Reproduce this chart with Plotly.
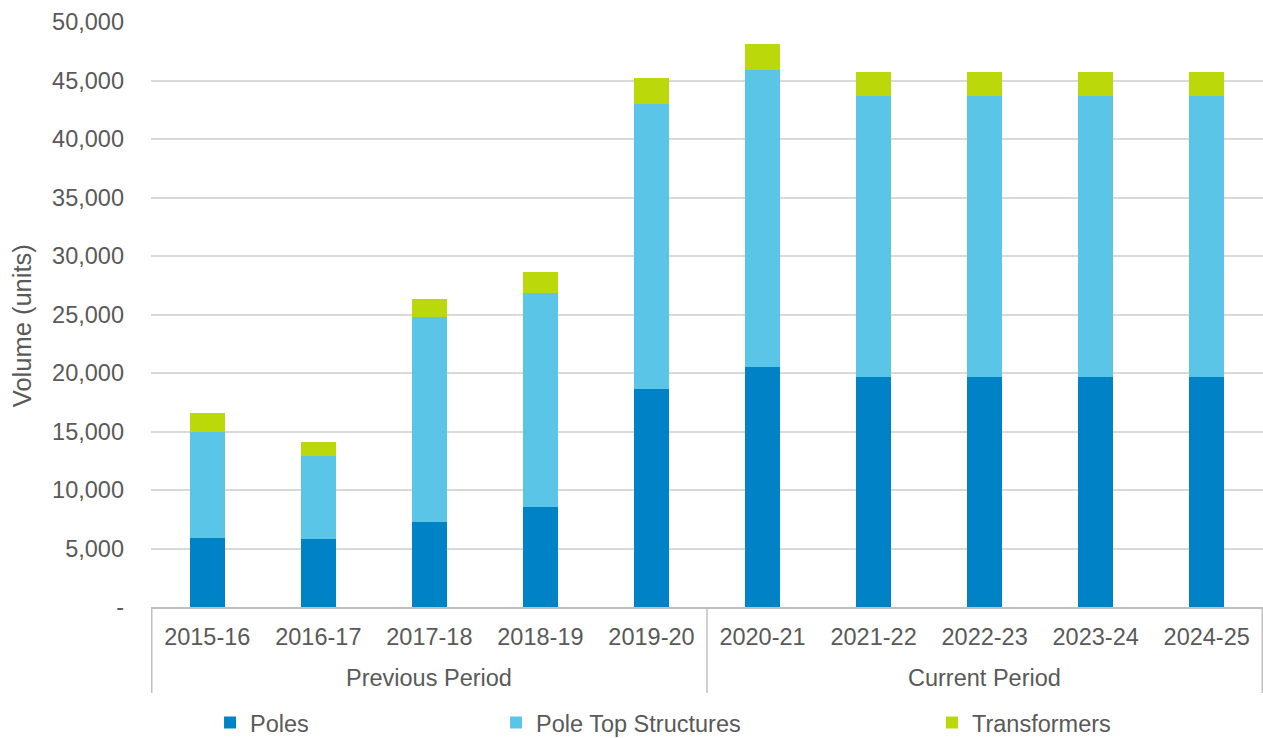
import plotly.graph_objects as go

# Financial years and the regulatory period each belongs to
years = ["2015-16", "2016-17", "2017-18", "2018-19", "2019-20",
         "2020-21", "2021-22", "2022-23", "2023-24", "2024-25"]
period_names = ["Previous Period", "Current Period"]
period_sizes = [5, 5]

# Replacement volumes (units) per asset class
poles = [5900, 5800, 7300, 8550, 18600, 20500, 19700, 19700, 19700, 19700]
pole_top_structures = [9050, 7100, 17500, 18250, 24400, 25400, 24000, 24000, 24000, 24000]
transformers = [1600, 1200, 1550, 1850, 2200, 2200, 2050, 2050, 2050, 2050]

# Value-axis ticks
y_tickvals = [0, 5000, 10000, 15000, 20000, 25000, 30000, 35000, 40000, 45000, 50000]
y_ticktext = ["-", "5,000", "10,000", "15,000", "20,000", "25,000",
              "30,000", "35,000", "40,000", "45,000", "50,000"]

FONT = "Liberation Sans, Arial, sans-serif"
GREY = "#595959"
LINE = "#BFBFBF"
FS = 23.5

series = [
    ("Poles", poles, "#0082C6", "legend", 0.0531),
    ("Pole Top Structures", pole_top_structures, "#5BC5E8", "legend2", 0.3103),
    ("Transformers", transformers, "#BAD80A", "legend3", 0.7023),
]

fig = go.Figure()
for name, vals, color, leg, _ in series:
    fig.add_trace(go.Bar(
        name=name,
        x=years,
        y=vals,
        marker=dict(color=color, line=dict(width=0)),
        legend=leg,
    ))

# Period group labels and the dividers that bracket them
shapes = []
annotations = []
start = 0
bounds = [-0.5]
for pname, size in zip(period_names, period_sizes):
    centre = start + (size - 1) / 2
    annotations.append(dict(
        x=centre, xref="x", y=-0.121, yref="paper",
        text=pname, showarrow=False, xanchor="center", yanchor="middle",
        font=dict(family=FONT, size=FS, color=GREY),
    ))
    start += size
    bounds.append(start - 0.5)
for b in bounds:
    shapes.append(dict(
        type="line", xref="x", yref="paper",
        x0=b, x1=b, y0=0, y1=-0.147,
        line=dict(color=LINE, width=1.5),
    ))

# Value-axis title
annotations.append(dict(
    x=-0.116, xref="paper", y=0.48, yref="paper",
    text="Volume (units)", textangle=-90, showarrow=False,
    xanchor="center", yanchor="middle",
    font=dict(family=FONT, size=25.5, color=GREY),
))

legend_common = dict(
    orientation="h",
    yanchor="middle",
    xanchor="left",
    y=-0.198,
    font=dict(family=FONT, size=FS, color=GREY),
    bgcolor="rgba(0,0,0,0)",
    itemwidth=30,
)
layout_legends = {leg: dict(legend_common, x=lx) for _, _, _, leg, lx in series}

fig.update_layout(
    width=1263,
    height=738,
    margin=dict(l=151, r=0, t=22, b=131, autoexpand=False),
    paper_bgcolor="white",
    plot_bgcolor="white",
    barmode="stack",
    bargap=0.68,
    showlegend=True,
    font=dict(family=FONT, size=FS, color=GREY),
    xaxis=dict(
        type="category",
        showline=True,
        linecolor=LINE,
        linewidth=1.5,
        ticks="",
        ticklabelstandoff=8,
        tickfont=dict(family=FONT, size=FS, color=GREY),
        showgrid=False,
        automargin=False,
    ),
    yaxis=dict(
        range=[0, 50000],
        tickvals=y_tickvals,
        ticktext=y_ticktext,
        showgrid=True,
        gridcolor="#D9D9D9",
        gridwidth=2,
        zeroline=False,
        ticks="",
        ticklabelstandoff=26,
        tickfont=dict(family=FONT, size=FS, color=GREY),
        automargin=False,
    ),
    shapes=shapes,
    annotations=annotations,
    **layout_legends,
)

fig.write_html("out.html")
